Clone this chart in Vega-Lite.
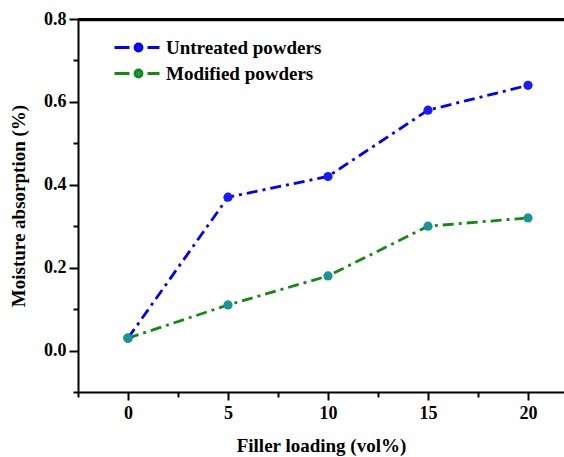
{
  "$schema": "https://vega.github.io/schema/vega-lite/v6.json",
  "width": 486,
  "height": 373,
  "autosize": {"type": "none"},
  "padding": {"left": 78, "top": 19, "right": 0, "bottom": 65},
  "background": "white",
  "config": {
    "view": {"stroke": null},
    "axis": {
      "grid": false,
      "domainColor": "black",
      "domainWidth": 2,
      "tickColor": "black",
      "tickWidth": 2,
      "labelFont": "Liberation Serif",
      "labelFontWeight": "bold",
      "labelFontSize": 18,
      "labelColor": "black",
      "titleFont": "Liberation Serif",
      "titleFontWeight": "bold",
      "titleFontSize": 19,
      "titleColor": "black"
    }
  },
  "data": {
    "values": [
      {"loading": 0, "absorption": 0.03, "series": "Untreated powders"},
      {"loading": 5, "absorption": 0.37, "series": "Untreated powders"},
      {"loading": 10, "absorption": 0.42, "series": "Untreated powders"},
      {"loading": 15, "absorption": 0.58, "series": "Untreated powders"},
      {"loading": 20, "absorption": 0.64, "series": "Untreated powders"},
      {"loading": 0, "absorption": 0.03, "series": "Modified powders"},
      {"loading": 5, "absorption": 0.11, "series": "Modified powders"},
      {"loading": 10, "absorption": 0.18, "series": "Modified powders"},
      {"loading": 15, "absorption": 0.30, "series": "Modified powders"},
      {"loading": 20, "absorption": 0.32, "series": "Modified powders"}
    ]
  },
  "layer": [
    {
      "mark": {"type": "line", "strokeDash": [11, 5, 3, 5], "strokeWidth": 2.8},
      "encoding": {
        "x": {
          "field": "loading",
          "type": "quantitative",
          "scale": {"domain": [-2.5, 21.8], "nice": false, "zero": false},
          "axis": {
            "title": "Filler loading (vol%)",
            "values": [-2.5, 0, 2.5, 5, 7.5, 10, 12.5, 15, 17.5, 20],
            "labelExpr": "datum.value % 5 === 0 ? datum.label : ''",
            "tickSize": {"condition": {"test": "datum.value % 5 === 0", "value": 8}, "value": 5},
            "labelPadding": 4,
            "titlePadding": 14
          }
        },
        "y": {
          "field": "absorption",
          "type": "quantitative",
          "scale": {"domain": [-0.1, 0.8], "nice": false, "zero": false},
          "axis": {
            "title": "Moisture absorption (%)",
            "values": [-0.1, 0, 0.1, 0.2, 0.3, 0.4, 0.5, 0.6, 0.7, 0.8],
            "format": ".1f",
            "labelExpr": "round(datum.value * 10) % 2 === 0 ? datum.label : ''",
            "tickSize": {"condition": {"test": "round(datum.value * 10) % 2 === 0", "value": 9}, "value": 5},
            "labelPadding": 3,
            "titlePadding": 15
          }
        },
        "stroke": {
          "field": "series",
          "type": "nominal",
          "scale": {"domain": ["Untreated powders", "Modified powders"], "range": ["#0000ff", "#128a12"]},
          "legend": {
            "orient": "none",
            "legendX": 49,
            "legendY": 17,
            "title": null,
            "symbolType": "M-2.4,0H-0.9M0.9,0H2.1M-0.35,0A0.35,0.35,0,1,1,0.35,0A0.35,0.35,0,1,1,-0.35,0",
            "symbolSize": 400,
            "symbolStrokeWidth": 2.8,
            "labelOffset": 16,
            "rowPadding": 4,
            "labelFont": "Liberation Serif",
            "labelFontWeight": "bold",
            "labelFontSize": 19,
            "labelColor": "black",
            "padding": 0
          }
        }
      }
    },
    {
      "mark": {"type": "point", "filled": true, "size": 85, "opacity": 1, "shape": "circle"},
      "encoding": {
        "x": {"field": "loading", "type": "quantitative"},
        "y": {"field": "absorption", "type": "quantitative"},
        "fill": {
          "field": "series",
          "type": "nominal",
          "scale": {"domain": ["Untreated powders", "Modified powders"], "range": ["#1a1aff", "#1a9494"]}
        }
      }
    },
    {
      "data": {"values": [{"border": 0.8}, {"border": 0.797}]},
      "mark": {"type": "rule", "stroke": "black", "strokeWidth": 2},
      "encoding": {
        "y": {"field": "border", "type": "quantitative"}
      }
    }
  ]
}
